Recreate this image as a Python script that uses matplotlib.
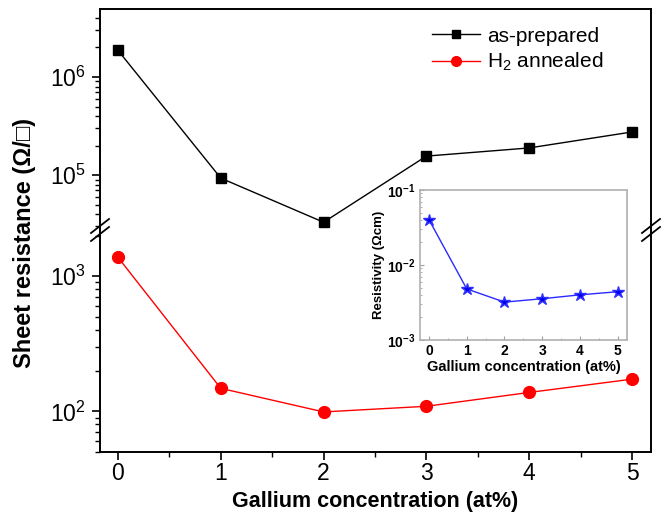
import numpy as np
import matplotlib
matplotlib.use("Agg")
import matplotlib.pyplot as plt
from matplotlib.ticker import LogLocator, NullFormatter, MultipleLocator
from matplotlib.lines import Line2D

plt.rcParams['font.family'] = ['Liberation Sans', 'DejaVu Sans']
plt.rcParams['mathtext.fontset'] = 'custom'
plt.rcParams['mathtext.rm'] = 'Liberation Sans'
plt.rcParams['mathtext.bf'] = 'Liberation Sans:bold'

# data
ga = [0, 1, 2, 3, 4, 5]
as_prepared = [1.87e6, 9.3e4, 3.3e4, 1.56e5, 1.89e5, 2.75e5]
h2_annealed = [1380, 148, 99, 109, 138, 173]
resistivity = [0.040, 0.0048, 0.0032, 0.00355, 0.0040, 0.0044]

W, H = 669, 523
fig = plt.figure(figsize=(W / 100, H / 100), dpi=100)

L, R = 100, 651
top_y0, brk, bot_y1 = 9, 230, 452
ax_t = fig.add_axes([L / W, 1 - brk / H, (R - L) / W, (brk - top_y0) / H])
ax_b = fig.add_axes([L / W, 1 - bot_y1 / H, (R - L) / W, (bot_y1 - brk) / H])

for ax in (ax_t, ax_b):
    ax.set_yscale("log")
    ax.set_xlim(-0.175, 5.185)
    for s in ax.spines.values():
        s.set_linewidth(1.4)
    ax.yaxis.set_major_locator(LogLocator(base=10))
    ax.yaxis.set_minor_locator(LogLocator(base=10, subs=np.arange(2, 10)))
    ax.yaxis.set_minor_formatter(NullFormatter())
    ax.tick_params(axis="y", which="major", direction="out", length=6, width=1.2,
                   labelsize=16.5, right=False, pad=4)
    ax.tick_params(axis="y", which="minor", direction="out", length=3.5, width=1.0,
                   right=False)

ax_t.set_ylim(2.75e4, 4.94e6)
ax_b.set_ylim(50, 2200)
ax_t.spines["bottom"].set_visible(False)
ax_b.spines["top"].set_visible(False)
ax_t.tick_params(axis="x", which="both", bottom=False, top=False, labelbottom=False)

ax_b.xaxis.set_major_locator(MultipleLocator(1))
ax_b.xaxis.set_minor_locator(MultipleLocator(0.5))
ax_b.tick_params(axis="x", which="major", direction="out", length=6, width=1.2,
                 labelsize=16.5, top=False, pad=1.5)
ax_b.tick_params(axis="x", which="minor", direction="out", length=3.5, width=1.0, top=False)

ax_t.plot(ga, as_prepared, color="black", lw=1.0, marker="s", ms=7,
          label="as-prepared")
ax_b.plot(ga, h2_annealed, color="red", lw=1.0, marker="o", ms=8.5,
          label="H$_2$ annealed")

handles = [Line2D([], [], color="black", lw=1.0, marker="s", ms=6),
           Line2D([], [], color="red", lw=1.0, marker="o", ms=7)]
fig.legend(handles, ["as-prepared", "H$_2$ annealed"], loc="upper left",
           bbox_to_anchor=(417 / W, 1 - 12 / H), frameon=False, fontsize=15,
           handlelength=2.3, handletextpad=0.35, labelspacing=0.25,
           borderpad=0.2)

ax_b.set_xlabel("Gallium concentration (at%)", fontsize=15.5, fontweight="bold", labelpad=4)
fig.text(25 / W, 1 - 243 / H, "Sheet resistance (Ω/□)", rotation=90, fontsize=17,
         fontweight="bold", ha="center", va="center")

# break marks on both spines
for xc in (L, R):
    for dy in (-4, 4):
        yc = brk + dy
        fig.add_artist(Line2D([(xc - 9) / W, (xc + 9) / W],
                              [1 - (yc + 7) / H, 1 - (yc - 7) / H],
                              color="black", lw=1.3, transform=fig.transFigure))

# inset
ax_i = fig.add_axes([420 / W, 1 - 340 / H, 207 / W, 150 / H])
ax_i.set_yscale("log")
ax_i.set_ylim(1e-3, 1e-1)
ax_i.set_xlim(-0.24, 5.25)
ax_i.plot(ga, resistivity, color="#2a2aff", lw=1.0, marker="*", ms=9,
          markerfacecolor="#0000ee", markeredgecolor="#3030ff")
for s in ax_i.spines.values():
    s.set_color("#b0b0b0")
    s.set_linewidth(1.2)
ax_i.set_yticks([1e-3, 1e-2, 1e-1])
ax_i.set_yticklabels([r"$\mathbf{10^{-3}}$", r"$\mathbf{10^{-2}}$", r"$\mathbf{10^{-1}}$"])
ax_i.yaxis.set_minor_locator(LogLocator(base=10, subs=np.arange(2, 10)))
ax_i.yaxis.set_minor_formatter(NullFormatter())
ax_i.xaxis.set_major_locator(MultipleLocator(1))
ax_i.xaxis.set_minor_locator(MultipleLocator(0.5))
ax_i.tick_params(which="major", direction="in", length=3, width=0.8, color="#a0a0a0",
                 labelsize=10, pad=3)
ax_i.tick_params(which="minor", direction="in", length=1.5, width=0.6, color="#a0a0a0")
for lab in ax_i.get_xticklabels():
    lab.set_fontweight("bold")
ax_i.set_xlabel("Gallium concentration (at%)", fontsize=10.5, fontweight="bold", labelpad=1)
ax_i.set_ylabel("Resistivity (Ωcm)", fontsize=9.5, fontweight="bold", labelpad=2)

fig.savefig("out.png", dpi=100)
